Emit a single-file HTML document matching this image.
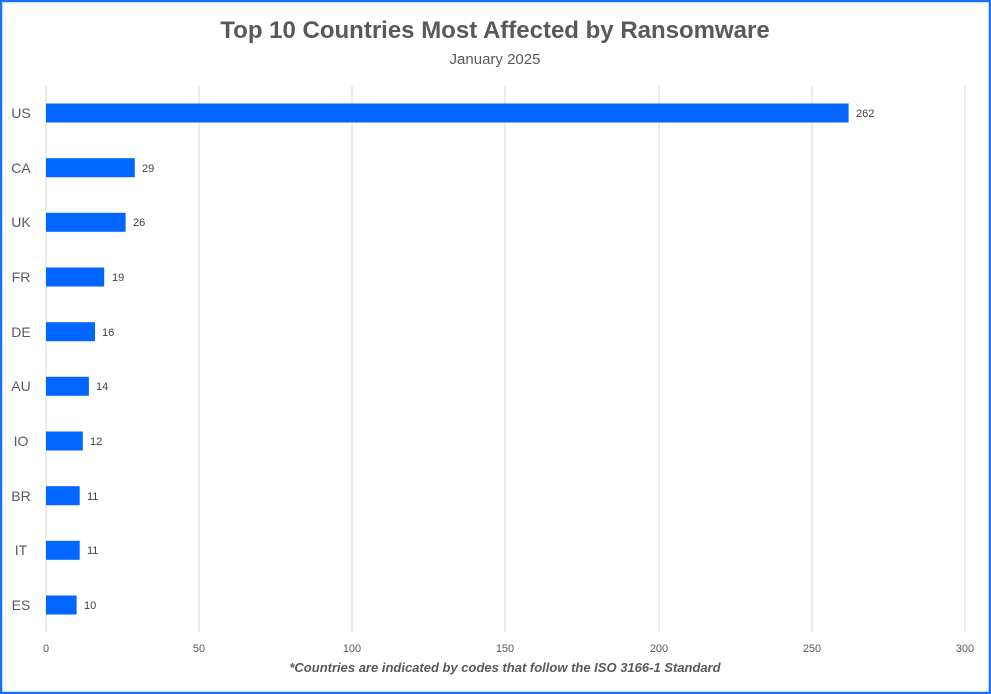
<!DOCTYPE html>
<html><head><meta charset="utf-8"><style>
body{margin:0;background:#fff}
svg{display:block}
text{font-family:"Liberation Sans",sans-serif}
</style></head><body>
<svg width="991" height="694" xmlns="http://www.w3.org/2000/svg">
<rect x="1" y="1" width="989" height="692" fill="#fff" stroke="#1a73ff" stroke-width="2.5"/>
<text x="495" y="38" text-anchor="middle" font-size="24" font-weight="bold" fill="#595959">Top 10 Countries Most Affected by Ransomware</text>
<text x="495" y="64" text-anchor="middle" font-size="15" fill="#595959">January 2025</text>
<g stroke="#d9d9d9" stroke-width="1">
<line x1="46" y1="86" x2="46" y2="632"/><line x1="199" y1="86" x2="199" y2="632"/><line x1="352" y1="86" x2="352" y2="632"/><line x1="505" y1="86" x2="505" y2="632"/><line x1="659" y1="86" x2="659" y2="632"/><line x1="812" y1="86" x2="812" y2="632"/><line x1="965" y1="86" x2="965" y2="632"/>
</g>
<g font-size="11" fill="#595959" text-anchor="middle">
<text x="46" y="652">0</text><text x="199" y="652">50</text><text x="352" y="652">100</text><text x="505" y="652">150</text><text x="659" y="652">200</text><text x="812" y="652">250</text><text x="965" y="652">300</text>
</g>
<g fill="#0066ff">
<rect x="46" y="103.5" width="802.6" height="19"/>
<rect x="46" y="158.2" width="88.8" height="19"/>
<rect x="46" y="212.8" width="79.6" height="19"/>
<rect x="46" y="267.5" width="58.2" height="19"/>
<rect x="46" y="322.2" width="49" height="19"/>
<rect x="46" y="376.8" width="42.9" height="19"/>
<rect x="46" y="431.5" width="36.8" height="19"/>
<rect x="46" y="486.2" width="33.7" height="19"/>
<rect x="46" y="540.8" width="33.7" height="19"/>
<rect x="46" y="595.5" width="30.6" height="19"/>
</g>
<g font-size="14" fill="#595959" text-anchor="middle">
<text x="21" y="118">US</text><text x="21" y="173">CA</text><text x="21" y="227">UK</text><text x="21" y="282">FR</text><text x="21" y="337">DE</text><text x="21" y="391">AU</text><text x="21" y="446">IO</text><text x="21" y="501">BR</text><text x="21" y="555">IT</text><text x="21" y="610">ES</text>
</g>
<g font-size="11" fill="#404040">
<text x="856" y="117">262</text><text x="142" y="172">29</text><text x="133" y="226">26</text><text x="112" y="281">19</text><text x="102" y="336">16</text><text x="96" y="390">14</text><text x="90" y="445">12</text><text x="87" y="500">11</text><text x="87" y="554">11</text><text x="84" y="609">10</text>
</g>
<text x="505" y="672" text-anchor="middle" font-size="13" font-weight="bold" font-style="italic" fill="#595959">*Countries are indicated by codes that follow the ISO 3166-1 Standard</text>
</svg>
</body></html>
